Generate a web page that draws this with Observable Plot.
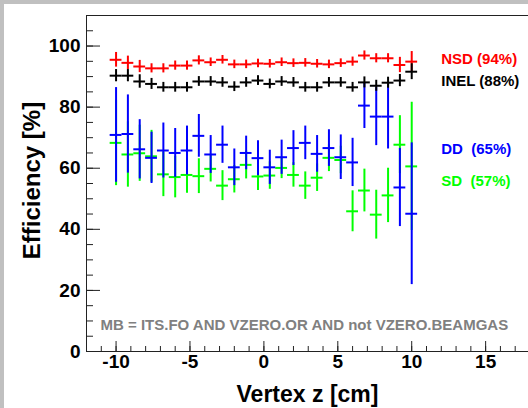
<!DOCTYPE html>
<html>
<head>
<meta charset="utf-8">
<script src="https://cdn.jsdelivr.net/npm/d3@7"></script>
<script src="https://cdn.jsdelivr.net/npm/@observablehq/plot@0.6"></script>
<style>
  html, body { margin: 0; padding: 0; overflow: hidden; }
  body {
    width: 528px; height: 408px;
    background:
      linear-gradient(#c0c0c0, #c0c0c0) 0 0 / 100% 4px no-repeat,
      linear-gradient(#c0c0c0, #c0c0c0) 0 0 / 4px 100% no-repeat,
      #ffffff;
  }
  #chart { position: absolute; left: 0; top: 0; }
</style>
</head>
<body>
<div id="chart"></div>
<script>
// ---- data ----
const vertexZ = [-10, -9.2, -8.4, -7.6, -6.8, -6, -5.2, -4.4, -3.6, -2.8, -2, -1.2, -0.4,
                 0.4, 1.2, 2, 2.8, 3.6, 4.4, 5.2, 6, 6.8, 7.6, 8.4, 9.2, 10];
const binHalfWidth = 0.4;

const nsd    = [95.5, 94.5, 93.3, 92.7, 92.7, 93.6, 93.6, 95.3, 94.7, 95.5, 94.0, 94.0, 94.3,
                94.2, 94.7, 94.4, 94.5, 94.2, 94.0, 94.4, 94.9, 96.9, 96.0, 96.0, 93.8, 94.9];
const nsdErr = [2.4, 2.2, 2.0, 1.5, 1.5, 1.5, 1.5, 1.5, 1.4, 1.4, 1.4, 1.4, 1.4,
                1.4, 1.4, 1.4, 1.4, 1.4, 1.4, 1.4, 1.5, 1.5, 1.5, 1.5, 2.5, 3.3];

const inel    = [90.3, 90.3, 88.4, 87.6, 86.5, 86.5, 86.5, 88.4, 88.4, 88.1, 86.7, 88.1, 88.7,
                 87.6, 88.4, 88.1, 86.5, 86.5, 88.1, 88.1, 86.5, 88.1, 87.0, 88.0, 88.7, 91.6];
const inelErr = [2.0, 2.0, 2.2, 1.8, 1.6, 1.6, 1.6, 1.6, 1.6, 1.6, 1.6, 1.6, 1.6,
                 1.6, 1.6, 1.6, 1.6, 1.6, 1.6, 1.6, 1.6, 1.8, 1.8, 1.8, 2.0, 2.6];

const dd    = [70.9, 71.2, 66.2, 63.4, 65.8, 65.0, 65.8, 70.6, 64.5, 67.7, 60.3, 65.0, 63.3,
               60.3, 63.6, 66.6, 68.3, 64.7, 66.6, 63.6, 61.9, 80.5, 76.9, 76.9, 53.7, 45.1];
const ddErr = [15.5, 12.8, 9.7, 8.4, 9.0, 8.0, 8.0, 7.0, 6.2, 6.1, 6.0, 5.5, 5.7,
               5.6, 5.6, 5.7, 5.5, 6.0, 6.0, 7.3, 7.9, 7.5, 9.5, 10.6, 12.8, 23.2];

const sd    = [68.3, 64.5, 64.9, 63.9, 58.0, 57.1, 57.8, 57.4, 59.8, 54.3, 56.4, 61.1, 57.3,
               57.6, 60.1, 57.8, 54.3, 56.9, 63.4, 62.7, 45.9, 52.7, 44.8, 51.1, 67.7, 60.6];
const sdErr = [14.0, 10.7, 9.2, 8.5, 7.3, 6.8, 6.0, 5.7, 4.3, 4.9, 4.5, 4.6, 4.6,
               4.5, 3.5, 4.0, 4.5, 4.5, 4.5, 4.5, 6.7, 7.0, 8.0, 8.9, 9.5, 21.0];

const legendLabels = ["NSD (94%)", "INEL (88%)", "DD  (65%)", "SD  (57%)"];
const xTickLabels = [-10, -5, 0, 5, 10, 15];
const yTickLabels = [0, 20, 40, 60, 80, 100];
const noteText = "MB = ITS.FO AND VZERO.OR AND not VZERO.BEAMGAS";

// ---- layout / style ----
const W = 528, H = 408;
const mL = 86, mR = 0, mT = 15, mB = 57;
const plotW = W - mL - mR, plotH = H - mT - mB;
const xDomain = [-12, 17.9], yDomain = [0, 110];
const legendX = 12;
const legendY = [95.6, 88.6, 66.1, 55.6];
const font = "'Liberation Sans', Arial, Helvetica, sans-serif";
const axisColor = "#222";

const seriesDefs = [
  {values: sd, errs: sdErr, color: "#00ff00"},
  {values: dd, errs: ddErr, color: "#0000ff"},
  {values: nsd, errs: nsdErr, color: "#ff0000"},
  {values: inel, errs: inelErr, color: "#000000"}
];
const legendColors = ["#ff0000", "#000000", "#0000ff", "#00ff00"];

const xMinor = d3.range(-11, 18);
const yMinor = d3.range(5, 110, 5);

const seriesMarks = seriesDefs.flatMap(s => {
  const rows = vertexZ.map((x, i) => ({x, y: s.values[i], e: s.errs[i]}));
  return [
    Plot.ruleX(rows, {x: "x", y1: d => d.y - d.e, y2: d => d.y + d.e, stroke: s.color, strokeWidth: 2}),
    Plot.ruleY(rows, {y: "y", x1: d => d.x - binHalfWidth, x2: d => d.x + binHalfWidth, stroke: s.color, strokeWidth: 2})
  ];
});

const legendRows = legendLabels.map((t, i) => ({t, y: legendY[i], c: legendColors[i]}));

const chart = Plot.plot({
  width: W, height: H,
  marginLeft: mL, marginRight: mR, marginTop: mT, marginBottom: mB,
  x: {domain: xDomain},
  y: {domain: yDomain},
  style: {background: "transparent", fontFamily: font, color: "black", overflow: "visible"},
  marks: [
    // frame lines
    Plot.ruleX([xDomain[0]], {stroke: axisColor, strokeWidth: 1}),
    Plot.ruleY([yDomain[0]], {stroke: axisColor, strokeWidth: 1}),
    Plot.ruleY([yDomain[1]], {stroke: axisColor, strokeWidth: 1}),
    // inward ticks
    Plot.tickY(yMinor, {y: d => d, insetRight: plotW - 7, stroke: axisColor}),
    Plot.tickY(yTickLabels, {y: d => d, insetRight: plotW - 14, stroke: axisColor}),
    Plot.tickX(xMinor, {x: d => d, insetTop: plotH - 5, stroke: axisColor}),
    Plot.tickX(xTickLabels, {x: d => d, insetTop: plotH - 10, stroke: axisColor}),
    // tick labels
    Plot.axisY(yTickLabels, {anchor: "left", tickSize: 0, tickPadding: 6, fontSize: 19, fontWeight: "bold",
                             tickFormat: d => String(d), label: null}),
    Plot.axisX(xTickLabels, {anchor: "bottom", tickSize: 0, tickPadding: 3, fontSize: 19, fontWeight: "bold",
                             tickFormat: d => String(d), label: null}),
    // axis titles
    Plot.text(["Efficiency [%]"], {frameAnchor: "left", rotate: -90, dx: -47, dy: -3, lineAnchor: "bottom",
                                   textAnchor: "middle", fontSize: 24, fontWeight: "bold", fill: "black"}),
    Plot.text(["Vertex z [cm]"], {frameAnchor: "bottom", dy: 50, lineAnchor: "bottom",
                                  textAnchor: "middle", fontSize: 23, fontWeight: "bold", fill: "black"}),
    // data
    ...seriesMarks,
    // legend labels
    Plot.text(legendRows, {x: () => legendX, y: "y", text: "t", fill: "c", textAnchor: "start", lineAnchor: "middle",
                           fontSize: 15, fontWeight: "bold"}),
    // note
    Plot.text([noteText], {frameAnchor: "bottom-left", dx: 14, dy: -22, lineAnchor: "bottom", textAnchor: "start",
                           fontSize: 15, fontWeight: "bold", fill: "#808080"})
  ]
});
document.getElementById("chart").appendChild(chart);
</script>
</body>
</html>
